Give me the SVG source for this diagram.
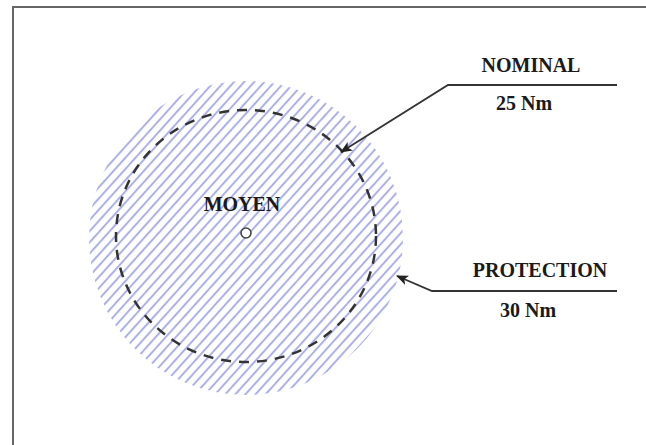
<svg xmlns="http://www.w3.org/2000/svg" width="646" height="445" viewBox="0 0 646 445">
<defs>
<style>
.lbl{font-family:"Liberation Serif","Times New Roman",serif;font-weight:bold;font-size:20px;fill:#1a1a1a}
.ldr{fill:none;stroke:#333;stroke-width:1.8}
</style>
<pattern id="hatch" patternUnits="userSpaceOnUse" width="7.5" height="7.5" patternTransform="rotate(-48)">
<rect width="7.5" height="7.5" fill="#fff"/>
<line x1="0" y1="3.75" x2="7.5" y2="3.75" stroke="#abb1e8" stroke-width="2"/>
</pattern>
<marker id="ah" viewBox="0 0 12 10" refX="11" refY="5" markerWidth="12" markerHeight="10" markerUnits="userSpaceOnUse" orient="auto">
<path d="M0,0 L12,5 L0,10 L3,5 Z" fill="#222"/>
</marker>
</defs>
<rect width="646" height="445" fill="#fff"/>
<path d="M13,445 L13,7 L646,7" fill="none" stroke="#666" stroke-width="2"/>
<g id="protection-zone">
<circle cx="246" cy="238" r="157" fill="url(#hatch)"/>
</g>
<g id="nominal-zone">
<ellipse cx="246" cy="236" rx="130" ry="126" fill="none" stroke="#333" stroke-width="2.5" stroke-dasharray="10 8"/>
</g>
<g id="moyen">
<circle cx="246" cy="233" r="5" fill="#fff" stroke="#444" stroke-width="1.6"/>
<text class="lbl" x="242" y="211" text-anchor="middle">MOYEN</text>
</g>
<g id="nominal-label">
<text class="lbl" x="531" y="72" text-anchor="middle">NOMINAL</text>
<text class="lbl" x="524" y="110" text-anchor="middle">25 Nm</text>
</g>
<g id="protection-label">
<text class="lbl" x="540" y="277" text-anchor="middle">PROTECTION</text>
<text class="lbl" x="528" y="317" text-anchor="middle">30 Nm</text>
</g>
<g id="connectors">
<path class="ldr" d="M617,85 L448,85 L341,152" marker-end="url(#ah)"/>
<path class="ldr" d="M617,291 L432,291 L397,276" marker-end="url(#ah)"/>
</g>
</svg>
